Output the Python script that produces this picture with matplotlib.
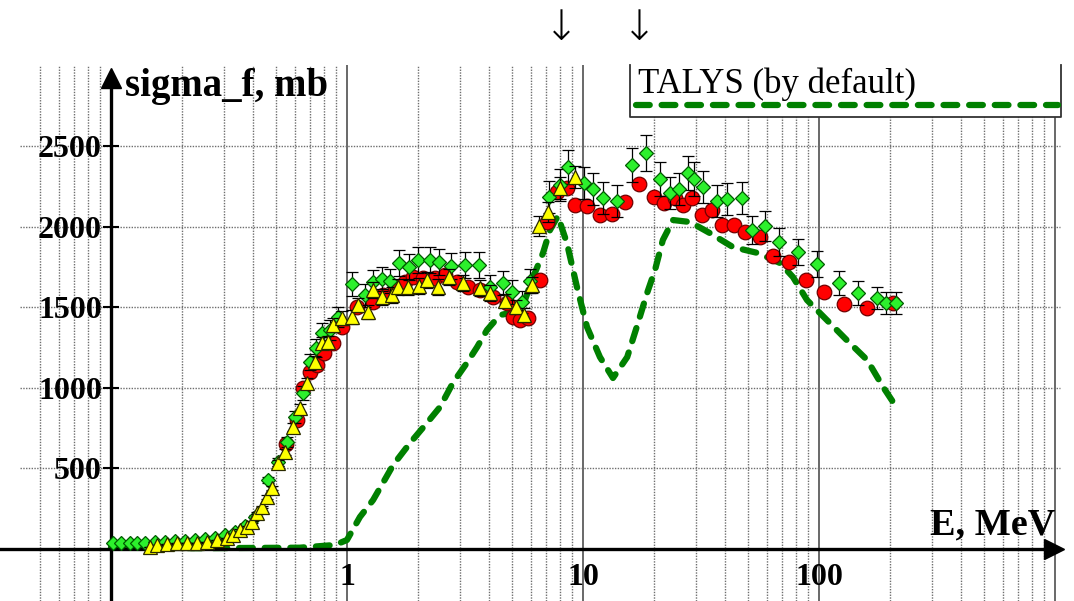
import numpy as np
import matplotlib
matplotlib.use("Agg")
from matplotlib import pyplot as plt
import matplotlib.patches as patches
import matplotlib.transforms as mtransforms

# ---- data (E in MeV, sigma_f in mb) ----
talys_E = [0.1, 0.24, 0.63, 0.89, 1.0, 1.135, 1.29, 1.42, 1.57, 1.85, 2.18, 2.48,
           2.81, 3.22, 3.56, 3.92, 4.45, 5.15, 5.68, 6.08, 6.77, 7.25, 7.83, 8.55,
           9.43, 10.4, 11.8, 13.4, 15.4, 16.9, 18.7, 20.2, 21.8, 24.1, 28.4, 34.5,
           43.2, 55.2, 68.4, 77.6, 89.0, 108, 131, 160, 187, 214]
talys_sig = [10, 5, 8, 25, 56, 199, 304, 410, 522, 658, 782, 882,
             1031, 1155, 1254, 1360, 1453, 1472, 1546, 1670, 1838, 1981, 2068, 1900,
             1627, 1379, 1192, 1062, 1192, 1379, 1590, 1733, 1919, 2043, 2031, 1962,
             1875, 1838, 1776, 1689, 1546, 1422, 1298, 1174, 1006, 876]

green_E = [0.102, 0.110, 0.120, 0.129, 0.139, 0.154, 0.169, 0.187, 0.206, 0.227,
           0.250, 0.276, 0.304, 0.335, 0.370, 0.408, 0.463, 0.510, 0.557, 0.60,
           0.651, 0.697, 0.740, 0.784, 0.847, 0.916, 1.05, 1.19, 1.29, 1.41,
           1.52, 1.66, 1.83, 2.00, 2.25, 2.45, 2.76, 3.16, 3.63, 4.04,
           4.58, 5.00, 5.52, 5.96, 7.18, 8.00, 8.64, 10.1, 11.0, 12.2,
           13.9, 16.1, 18.5, 21.2, 23.4, 25.5, 27.9, 29.5, 32.2, 37.0,
           40.7, 47.2, 52.0, 59.0, 67.7, 81.5, 98.1, 122, 146, 176, 192, 212]
green_sig = [35, 40, 35, 40, 40, 42, 45, 48, 50, 55,
             60, 70, 85, 105, 140, 200, 428, 540, 664, 820,
             969, 1161, 1250, 1341, 1360, 1441, 1646, 1577, 1658, 1677,
             1664, 1776, 1751, 1795, 1795, 1782, 1757, 1764, 1764, 1627,
             1652, 1596, 1534, 1664, 2186, 2260, 2372, 2273, 2236, 2180,
             2161, 2385, 2459, 2298, 2211, 2236, 2335, 2298, 2248, 2161,
             2174, 2180, 1981, 2006, 1906, 1844, 1770, 1652, 1590, 1559, 1528, 1528]
green_rel_err = 0.045

red_E = [0.55, 0.614, 0.651, 0.70, 0.746, 0.80, 0.873, 0.952, 1.10, 1.29,
         1.42, 1.60, 1.76, 1.90, 2.10, 2.36, 2.60, 2.92, 3.26, 3.66,
         4.16, 4.77, 5.05, 5.41, 5.85, 6.58, 7.04, 7.76, 8.55, 9.25,
         10.4, 11.8, 13.3, 15.1, 17.3, 20.0, 22.0, 24.5, 26.5, 29.0,
         31.9, 35.2, 38.8, 43.6, 48.6, 56.2, 63.9, 74.6, 88.1, 105, 128, 160, 206]
red_sig = [650, 800, 1000, 1100, 1143, 1220, 1279, 1379, 1503, 1534,
           1577, 1627, 1658, 1689, 1683, 1683, 1702, 1658, 1627, 1608,
           1565, 1528, 1441, 1422, 1434, 1670, 2031, 2217, 2242, 2136,
           2130, 2074, 2080, 2155, 2267, 2186, 2149, 2180, 2136, 2180,
           2074, 2105, 2012, 2012, 1969, 1938, 1820, 1782, 1670, 1596, 1521, 1497, 1528]

yel_E = [0.146, 0.157, 0.173, 0.190, 0.210, 0.231, 0.255, 0.281, 0.310, 0.329,
         0.352, 0.377, 0.396, 0.416, 0.436, 0.458, 0.481, 0.510, 0.546, 0.590,
         0.632, 0.677, 0.732, 0.784, 0.830, 0.873, 0.952, 1.05, 1.11, 1.23,
         1.29, 1.41, 1.55, 1.64, 1.81, 2.02, 2.18, 2.43, 2.71, 3.10,
         3.66, 4.04, 4.67, 5.20, 5.62, 6.08, 6.51, 7.11, 8.0, 9.25]
yel_sig = [12, 25, 31, 37, 37, 37, 43, 56, 68, 87,
           118, 137, 168, 224, 261, 323, 379, 534, 602, 758,
           876, 1031, 1161, 1279, 1285, 1391, 1434, 1441, 1515, 1472,
           1608, 1565, 1577, 1627, 1627, 1633, 1670, 1627, 1689, 1652,
           1621, 1590, 1540, 1503, 1453, 1639, 2006, 2093, 2242, 2310]
yel_rel_err = 0.03

y_ticks = [500, 1000, 1500, 2000, 2500]
x_ticks = [1, 10, 100]
x_ticklabels = ['1', '10', '100']
arrow_E = [8.07, 17.4]   # the two arrows above the plot
##########################################

SERIF = 'Liberation Serif'
GRID = '#6e6e6e'
fig = plt.figure(figsize=(10.74, 6.01), dpi=100)
ax = fig.add_axes([0, 0, 1, 536 / 601])
ax.set_xscale('log')
ax.set_xlim(0.03387, 1204)
ax.set_ylim(-323, 3006)
ax.patch.set_visible(False)

# grid: dotted minor lines, solid decade lines
for dec in [0.01, 0.1, 1, 10, 100]:
    for m in range(2, 10):
        v = dec * m
        if v < 0.045:
            continue
        ax.axvline(v, color=GRID, lw=1.0, ls=(0, (1, 1)), zorder=0)
for v in [1, 10, 100, 1000]:
    ax.axvline(v, color='#404040', lw=1.1, zorder=0)
ax.hlines(y_ticks, 0.041, 1050, colors=GRID, lw=1.0,
          linestyles=[(0, (1, 1))], zorder=0)

# axes with arrows
for s in ['top', 'right']:
    ax.spines[s].set_visible(False)
ax.spines['left'].set_position(('data', 0.1))
ax.spines['bottom'].set_position(('data', 0))
ax.spines['left'].set_linewidth(2.4)
ax.spines['bottom'].set_linewidth(2.4)
ax.spines['left'].set_bounds(-323, 2900)
ax.spines['bottom'].set_bounds(0.03387, 1000)
ax.plot([0.1], [2925], marker='^', ms=15, color='black', clip_on=False, zorder=9)
ax.plot([990], [0], marker='>', ms=15, color='black', clip_on=False, zorder=9)

ax.set_yticks(y_ticks)
ax.set_yticklabels([str(t) for t in y_ticks])
ax.set_xticks(x_ticks)
ax.set_xticklabels(x_ticklabels)
ax.xaxis.set_minor_locator(matplotlib.ticker.NullLocator())
ax.tick_params(axis='y', direction='inout', length=11, width=1.5, pad=1)
ax.tick_params(axis='x', length=0, pad=10)
for lab in ax.get_xticklabels() + ax.get_yticklabels():
    lab.set_fontfamily(SERIF)
    lab.set_fontweight('bold')
    lab.set_fontsize(23)

# TALYS
ax.plot(talys_E, talys_sig, color='#008000', lw=4.5, dashes=(2.2, 1.9),
        dash_capstyle='round', zorder=2)

# measured data
ax.plot(red_E, red_sig, ls='none', marker='o', ms=10.5, mfc='#ff0000',
        mec='#700000', mew=0.9, zorder=3)
green_err = np.array(green_sig) * green_rel_err
ax.errorbar(green_E, green_sig, yerr=green_err, fmt='D', ms=7.2, mfc='#2cf02c',
            mec='#005a00', mew=0.9, ecolor='black', elinewidth=0.9, capsize=4.5,
            capthick=0.9, zorder=4)
yel_err = np.array(yel_sig) * yel_rel_err
ax.errorbar(yel_E, yel_sig, yerr=yel_err, fmt='^', ms=9.8, mfc='#ffff00',
            mec='#2a2a00', mew=0.9, ecolor='black', elinewidth=0.9, capsize=4.5,
            capthick=0.9, zorder=5)

# axis titles
ax.text(0.1147, 2870, 'sigma_f, mb', family=SERIF, fontweight='bold',
        fontsize=28, ha='left', va='center')
ax.text(1000, 149, 'E, MeV', family=SERIF, fontweight='bold',
        fontsize=27.5, ha='right', va='center')

# legend box (top edge cut by the plot area)
lx0, lx1, ly0 = 630 / 1074, 1061 / 1074, (601 - 117) / 536
ax.add_patch(patches.Rectangle((lx0, ly0), lx1 - lx0, 1 - ly0, transform=ax.transAxes,
                               facecolor='white', edgecolor='none', zorder=6,
                               clip_on=False))
ax.plot([lx0, lx0, lx1, lx1], [1.0, ly0, ly0, 1.0], transform=ax.transAxes,
        color='#333333', lw=1.3, zorder=7, clip_on=False)
ax.plot([636 / 1074, 1058 / 1074], [(601 - 105) / 536] * 2, transform=ax.transAxes,
        color='#008000', lw=4.5, dashes=(2.2, 1.9), dash_capstyle='round', zorder=7,
        clip_on=False)
ax.text(638 / 1074, (601 - 93) / 536, 'TALYS (by default)', transform=ax.transAxes,
        family=SERIF, fontsize=25, ha='left', va='baseline', zorder=8)

# arrows above the plot
trans = mtransforms.blended_transform_factory(ax.transData, fig.transFigure)
for e in arrow_E:
    ax.text(e, 1 - 28 / 601, '\u2193', transform=trans,
            family=['DejaVu Sans'], fontweight='ultralight',
            fontsize=30, ha='center', va='center', clip_on=False)

fig.savefig('out.png', dpi=100)
